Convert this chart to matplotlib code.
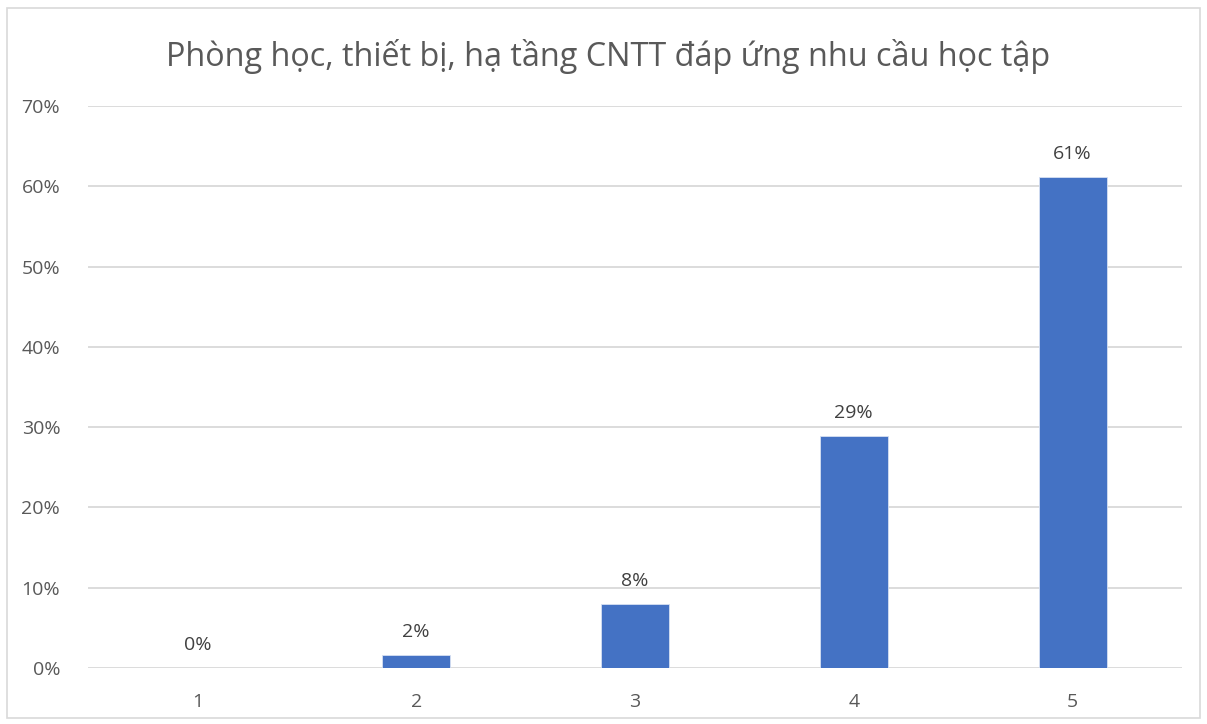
import matplotlib.pyplot as plt
from matplotlib.patches import Rectangle
from matplotlib.ticker import FuncFormatter

categories = ["1", "2", "3", "4", "5"]
values = [0.0, 1.6, 8.0, 28.9, 61.2]  # percent
title = "Phòng học, thiết bị, hạ tầng CNTT đáp ứng nhu cầu học tập"

plt.rcParams['font.family'] = ['Open Sans', 'DejaVu Sans']

fig = plt.figure(figsize=(12.07, 7.24), dpi=100)
fig.patch.set_facecolor('white')
ax = fig.add_axes([0.0729, 0.0773, 0.9064, 0.7763])

x = range(len(categories))
bars = ax.bar(x, values, width=0.31, color='#4472C4', edgecolor='#D6E0F2', linewidth=0.6, zorder=3)

for xi, v in zip(x, values):
    ax.annotate(f"{round(v):.0f}%", (xi, v), xytext=(0, 10), textcoords='offset points',
                ha='center', va='bottom', fontsize=14, color='#404040')

ax.set_xlim(-0.5, len(categories) - 0.5)
ax.set_ylim(0, 70)
ax.set_yticks(range(0, 71, 10))
ax.yaxis.set_major_formatter(FuncFormatter(lambda v, p: f"{v:.0f}%"))
ax.set_xticks(list(x))
ax.set_xticklabels(categories)
ax.tick_params(axis='both', length=0, labelsize=14, colors='#595959')
ax.tick_params(axis='y', pad=20)
ax.tick_params(axis='x', pad=18)
ax.grid(axis='y', color='#D9D9D9', linewidth=1.3, zorder=0)
for s in ax.spines.values():
    s.set_visible(False)

fig.text(0.5035, 0.922, title, ha='center', va='center', fontsize=23.3, color='#595959')

fig.patches.append(Rectangle((7 / 1207, 6 / 724), 1193 / 1207, 710 / 724, transform=fig.transFigure,
                             fill=False, edgecolor='#D9D9D9', linewidth=1.2))

fig.savefig('out.png', dpi=100, facecolor='white')
